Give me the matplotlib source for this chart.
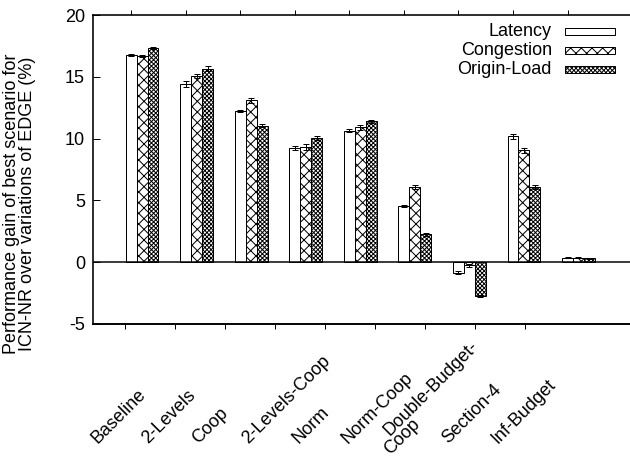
import numpy as np
import matplotlib
matplotlib.use("Agg")
import matplotlib.pyplot as plt
from matplotlib.patches import Rectangle

# ---------------- data ----------------
categories = ["Baseline", "2-Levels", "Coop", "2-Levels-Coop", "Norm",
              "Norm-Coop", "Double-Budget-\nCoop", "Section-4", "Inf-Budget"]
series_names = ["Latency", "Congestion", "Origin-Load"]
latency = [16.75, 14.4, 12.25, 9.25, 10.65, 4.55, -0.85, 10.2, 0.35]
congestion = [16.7, 15.05, 13.1, 9.3, 10.9, 6.1, -0.25, 9.05, 0.35]
origin_load = [17.35, 15.65, 11.05, 10.05, 11.4, 2.25, -2.75, 6.1, 0.3]
latency_err = [0.1, 0.25, 0.1, 0.15, 0.15, 0.1, 0.1, 0.2, 0.05]
congestion_err = [0.1, 0.15, 0.2, 0.25, 0.2, 0.15, 0.1, 0.2, 0.05]
origin_err = [0.1, 0.2, 0.15, 0.2, 0.1, 0.15, 0.1, 0.15, 0.05]
yticks = [-5, 0, 5, 10, 15, 20]
ylabel = "Performance gain of best scenario for\nICN-NR over variations of EDGE (%)"

# ---------------- style ----------------
DPI = 64
W, H = 630, 458
PT = 72.0 / DPI  # points per pixel
plt.rcParams['font.family'] = ['Liberation Sans', 'DejaVu Sans']
plt.rcParams['hatch.linewidth'] = 1.0 * PT
FS = 18.0 * PT

fig = plt.figure(figsize=(W / DPI, H / DPI), dpi=DPI)
ax_l, ax_r, ax_t, ax_b = 93, 632, 15, 324
ax = fig.add_axes([ax_l / W, 1 - ax_b / H, (ax_r - ax_l) / W, (ax_b - ax_t) / H])

x = np.arange(len(categories))
bw = 0.2
hatches = ["", "xx", "xxxxx"]
vals = [latency, congestion, origin_load]
errs = [latency_err, congestion_err, origin_err]
for k in range(3):
    xs = x + (k - 1) * bw
    ax.bar(xs, vals[k], width=bw, color="white", edgecolor="black",
           linewidth=1.0 * PT, hatch=hatches[k], zorder=2)
    ax.errorbar(xs, vals[k], yerr=errs[k], fmt="none", ecolor="black",
                elinewidth=1.0 * PT, capsize=3.0 * PT, capthick=1.0 * PT, zorder=3)

ax.axhline(0, color="black", linewidth=1.5 * PT, zorder=4)

ax.set_xlim(-0.900, 8.982)
ax.set_ylim(-5, 20)
ax.set_yticks(yticks)
ax.set_yticklabels([str(v) for v in yticks], fontsize=FS)
ax.tick_params(axis="y", direction="in", length=7 * PT, width=1.0 * PT, pad=8 * PT)
# top ticks at bar groups
ax.set_xticks(x - bw)
ax.set_xticklabels([])
ax.tick_params(axis="x", direction="out", length=5 * PT, width=1.0 * PT,
               top=True, bottom=False, labeltop=False, labelbottom=False)
for s in ["left", "top", "bottom"]:
    ax.spines[s].set_linewidth(1.6 * PT)
ax.spines["right"].set_visible(False)

# bottom label axis (gnuplot xtics use their own spacing)
def fwd(v):
    return (np.asarray(v) * 54.54 + 17.1) / 50.0

def inv(u):
    return (np.asarray(u) * 50.0 - 17.1) / 54.54

sec = ax.secondary_xaxis("bottom", functions=(fwd, inv))
sec.set_xticks(x)
sec.set_xticklabels([])
sec.tick_params(direction="out", length=5 * PT, width=1.0 * PT)
sec.spines["bottom"].set_linewidth(1.6 * PT)

# rotated category labels (left-aligned, anchored below each tick)
for i, lab in enumerate(categories):
    lines = lab.split("\n")
    n = len(lines)
    for j, ln in enumerate(lines):
        if n == 1:
            dx, dy = -27, -120
        else:
            dx, dy = -35, -122 - (j - (n - 1) / 2.0) * 19
        ax.annotate(ln, xy=(float(inv(i)), 0), xycoords=("data", "axes fraction"),
                    xytext=(dx, dy), textcoords="offset pixels",
                    rotation=45, rotation_mode="anchor", ha="left", va="baseline",
                    fontsize=FS, annotation_clip=False)

# y label
ax.text((19.5 - ax_l) / (ax_r - ax_l), (ax_b - 204) / (ax_b - ax_t), ylabel,
        transform=ax.transAxes, rotation=90, ha="center", va="center",
        multialignment="center", fontsize=FS, linespacing=0.95)

# legend (gnuplot style: right-aligned text, sample box to the right)
aw, ah = ax_r - ax_l, ax_b - ax_t
rows_y = [31.5, 50.5, 69.5]
for k, name in enumerate(series_names):
    yc = (ax_b - rows_y[k]) / ah
    ax.text((552 - ax_l) / aw, yc, name, transform=ax.transAxes, ha="right",
            va="center", fontsize=FS)
    ax.add_patch(Rectangle(((565 - ax_l) / aw, yc - 3.75 / ah), 50 / aw, 7.5 / ah,
                           transform=ax.transAxes, facecolor="white",
                           edgecolor="black", linewidth=1.0 * PT,
                           hatch=hatches[k], clip_on=False))

fig.savefig("out.png", dpi=DPI)
